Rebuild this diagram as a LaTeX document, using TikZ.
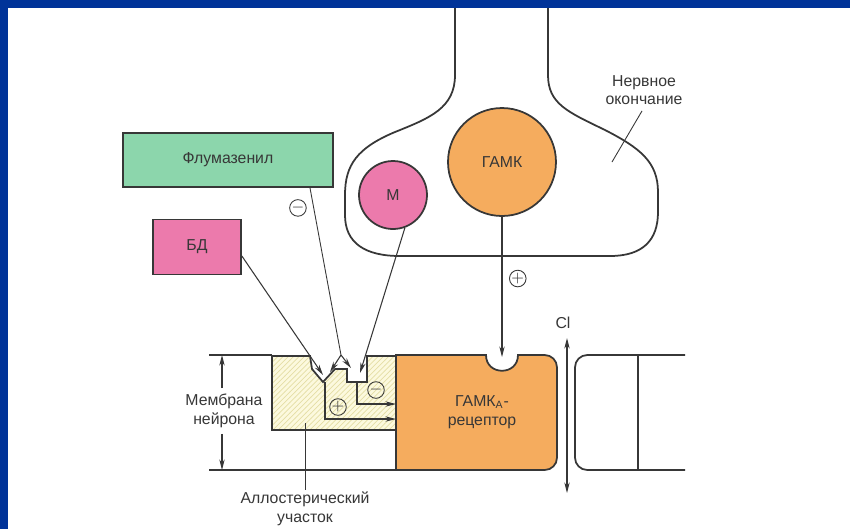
\documentclass[tikz,border=0pt]{standalone}
\usepackage{fontspec}
\setmainfont{Liberation Sans}
\usetikzlibrary{arrows.meta,patterns,positioning}
\usepackage{xcolor}
\definecolor{framecolor}{RGB}{0,51,153}
\definecolor{flumacolor}{RGB}{140,214,172}
\definecolor{pinkcolor}{RGB}{236,122,172}
\definecolor{gabacolor}{RGB}{245,172,94}
\definecolor{allocolor}{RGB}{252,249,222}
\definecolor{hatchcolor}{RGB}{228,222,165}
\definecolor{inkcolor}{RGB}{55,55,55}

\begin{document}
\begin{tikzpicture}[
    x=0.02cm, y=-0.02cm,
    every node/.style={font=\fontsize{9}{10.5}\selectfont, text=inkcolor},
    outline/.style={draw=inkcolor, line width=1pt},
    drugbox/.style={rectangle, outline, align=center},
    vesicle/.style={circle, outline, inner sep=0pt},
    sign/.style={circle, draw=inkcolor, line width=0.5pt, inner sep=0pt, minimum size=0.33cm, font=\small},
    arrow/.style={-{Stealth[length=6pt,width=3pt]}, draw=inkcolor, line width=0.6pt},
    thinline/.style={draw=inkcolor, line width=0.5pt}
]
\useasboundingbox (0,0) rectangle (850,529);

% Frame
\fill[framecolor] (0,0) rectangle (850,529);
\fill[white] (8,8) rectangle (850,529);

% Nerve terminal
\draw[outline] (455,8) -- (455,75)
    .. controls (455,108) and (430,118) .. (395,132)
    .. controls (357,148) and (345,165) .. (345,195) -- (345,215)
    .. controls (345,243) and (365,256) .. (400,256) -- (610,256)
    .. controls (643,256) and (658,240) .. (658,212) -- (658,192)
    .. controls (658,162) and (640,148) .. (605,130)
    .. controls (568,112) and (548,104) .. (548,75) -- (548,8);
\node[align=center] (nervelbl) at (644,90) {Нервное\\окончание};
\coordinate (nervept) at (612,162);
\draw[thinline] (nervelbl.south) ++(-2,0) -- (nervept);

% Vesicles
\node[vesicle, fill=gabacolor, minimum size=2.16cm] (gaba) at (502,162) {ГАМК};
\node[vesicle, fill=pinkcolor, minimum size=1.36cm] (mves) at (393,195) {М};

% Drugs
\node[drugbox, fill=flumacolor, minimum width=4.2cm, minimum height=1.08cm] (fluma) at (228,160) {Флумазенил};
\node[drugbox, fill=pinkcolor, minimum width=1.76cm, minimum height=1.1cm] (bd) at (197,247) {БД};

% Membrane lines
\draw[outline] (209,355) -- (272,355);
\draw[outline] (209,470) -- (396,470);

% Allosteric site
\fill[allocolor] (272,356) -- (310,356) -- (312,369) -- (323,382) -- (335,369) -- (347,369)
    -- (347,382) -- (367,382) -- (367,356) -- (396,356) -- (396,430) -- (272,430) -- cycle;
\fill[pattern=north east lines, pattern color=hatchcolor] (272,356) -- (310,356) -- (312,369) -- (323,382) -- (335,369) -- (347,369)
    -- (347,382) -- (367,382) -- (367,356) -- (396,356) -- (396,430) -- (272,430) -- cycle;
\draw[outline] (272,356) -- (310,356) -- (312,369) -- (323,382) -- (335,369) -- (347,369)
    -- (347,382) -- (367,382) -- (367,356) -- (396,356) -- (396,430) -- (272,430) -- cycle;

% GABA-A receptor
\draw[outline, fill=gabacolor] (396,470) -- (396,355) -- (486,355)
    .. controls (486,376) and (518,376) .. (518,355)
    [rounded corners=7pt] -- (557,355) -- (557,470) -- (480,470) [sharp corners] -- (396,470);
\node[align=center] (reclbl) at (482,412) {ГАМК\textsubscript{A}-\\рецептор};

% Chloride channel
\draw[outline, rounded corners=7pt] (685,355) -- (575,355) -- (575,470) -- (685,470);
\draw[outline] (638,355) -- (638,470);
\coordinate (cltop) at (567,338);
\coordinate (clbot) at (567,493);
\draw[arrow, {Stealth[length=6pt,width=3pt]}-{Stealth[length=6pt,width=3pt]}] (clbot) -- (cltop);
\node (cllbl) at (563,323) {Cl};

% Targets on the allosteric site
\coordinate (bdtip) at (323,375);
\coordinate (apex) at (341,355);
\coordinate (legl) at (330,372);
\coordinate (legr) at (351,368);
\coordinate (mtip) at (360,373);
\coordinate (gabatip) at (502,357);

% Arrows from drugs and vesicles
\draw[arrow] (bd.east |- 0,256) -- (bdtip);
\draw[thinline] (fluma.south -| 310,0) -- node[sign, pos=0.12, left=4pt] (flumasign) {$-$} (apex);
\draw[arrow] (apex) -- (legl);
\draw[arrow] (apex) -- (legr);
\draw[arrow] (mves.290) -- (mtip);
\draw[arrow] (gaba.south) -- node[sign, pos=0.44, right=4pt] (gabasign) {$+$} (gabatip);

% Arrows inside the allosteric site
\coordinate (notcha) at (325,382);
\coordinate (notchb) at (357,382);
\draw[arrow] (notcha) -- (325,419) -- (396,419);
\draw[arrow] (notchb) -- (357,404) -- (396,404);
\node[sign] (plussign) at (338,407) {$+$};
\node[sign] (minussign) at (376,390) {$-$};

% Membrane label
\node[align=center] (memlbl) at (224,411) {Мембрана\\нейрона};
\coordinate (memtop) at (222,355);
\coordinate (membot) at (222,470);
\draw[arrow] (memlbl.north -| memtop) -- (memtop);
\draw[arrow] (memlbl.south -| membot) -- (membot);

% Allosteric label
\node[align=center, anchor=north, inner sep=1pt] (allolbl) at (305,490) {Аллостерический\\участок};
\draw[thinline] (305,423) -- (allolbl.north);

\end{tikzpicture}
\end{document}
